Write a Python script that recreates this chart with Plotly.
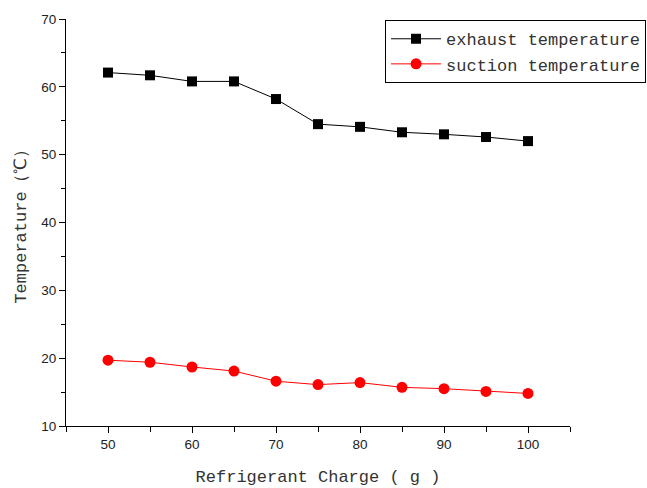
import plotly.graph_objects as go

# Refrigerant charge (g)
charge = [50, 55, 60, 65, 70, 75, 80, 85, 90, 95, 100]
# Temperatures (°C)
exhaust_temp = [62.1, 61.7, 60.8, 60.8, 58.2, 54.5, 54.1, 53.3, 53.0, 52.6, 52.0]
suction_temp = [19.7, 19.4, 18.7, 18.1, 16.6, 16.1, 16.4, 15.7, 15.5, 15.1, 14.8]

title_font = dict(family="Liberation Mono, SimSun, monospace", size=17, color="#333333")
tick_font = dict(family="Liberation Sans, Arial, sans-serif", size=13.5, color="#222222")

fig = go.Figure()
fig.add_trace(go.Scatter(
    x=charge, y=exhaust_temp, mode="lines+markers", name="exhaust temperature",
    line=dict(color="black", width=1),
    marker=dict(symbol="square", size=10, color="black"),
))
fig.add_trace(go.Scatter(
    x=charge, y=suction_temp, mode="lines+markers", name="suction temperature",
    line=dict(color="red", width=1),
    marker=dict(symbol="circle", size=11, color="red"),
))

axis_common = dict(
    showline=True, linecolor="black", linewidth=1.2, mirror=False,
    showgrid=False, zeroline=False,
    ticks="outside", ticklen=6, tickwidth=1, tickcolor="black",
    tickfont=tick_font,
)

fig.update_xaxes(
    range=[45, 105], tickvals=[50, 60, 70, 80, 90, 100],
    minor=dict(tickvals=[45, 55, 65, 75, 85, 95, 105], ticks="outside", ticklen=5,
               tickcolor="black", tickwidth=1),
    title=dict(text="Refrigerant Charge ( g )", font=title_font, standoff=18),
    **axis_common,
)
fig.update_yaxes(
    range=[10, 70], tickvals=[10, 20, 30, 40, 50, 60, 70],
    minor=dict(tickvals=[15, 25, 35, 45, 55, 65], ticks="outside", ticklen=4,
               tickcolor="black", tickwidth=1),
    title=dict(text="Temperature（℃）", font=title_font, standoff=10),
    **axis_common,
)

fig.update_layout(
    width=647, height=488,
    margin=dict(l=66, r=77, t=19, b=62, autoexpand=False),
    plot_bgcolor="white", paper_bgcolor="white",
    showlegend=True,
    legend=dict(
        x=0.633, y=0.997, xanchor="left", yanchor="top",
        bordercolor="black", borderwidth=1, bgcolor="white",
        font=dict(family="Liberation Mono, SimSun, monospace", size=17, color="#333333"),
        tracegroupgap=0, itemwidth=50,
    ),
)

fig.write_html("out.html")
